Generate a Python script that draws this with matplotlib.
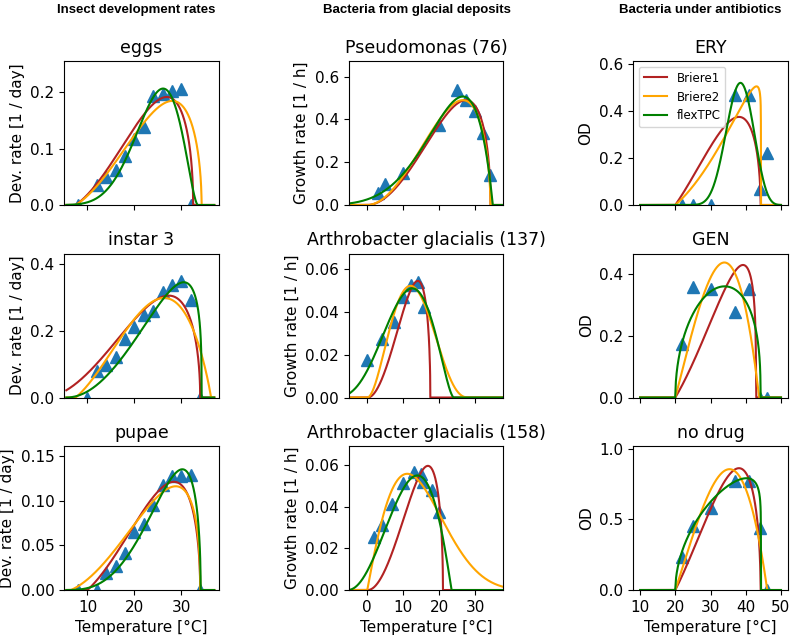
import numpy as np
import matplotlib
matplotlib.use("Agg")
import matplotlib.pyplot as plt

plt.rcParams['font.size'] = 11
plt.rcParams['axes.titlesize'] = 12.5

eggs_temp = [8, 12, 14, 16, 18, 20, 22, 24, 26, 28, 30, 32]
eggs_rate = [0.0, 0.036, 0.049, 0.063, 0.087, 0.118, 0.139, 0.194, 0.198, 0.202, 0.206, 0.0]

instar3_temp = [10, 12, 14, 16, 18, 20, 22, 24, 26, 28, 30, 32, 34]
instar3_rate = [0.0, 0.078, 0.098, 0.121, 0.176, 0.210, 0.248, 0.260, 0.316, 0.336, 0.349, 0.291, 0.0]

pupae_temp = [8, 12, 14, 16, 18, 20, 22, 24, 26, 28, 30, 32, 34]
pupae_rate = [0.0, 0.0, 0.019, 0.027, 0.041, 0.065, 0.074, 0.095, 0.117, 0.127, 0.128, 0.129, 0.0]

pseudo_temp = [3, 5, 10, 20, 25, 27.5, 30, 32, 34]
pseudo_rate = [0.058, 0.097, 0.151, 0.374, 0.538, 0.491, 0.44, 0.335, 0.14]

arth137_temp = [0, 4, 7.5, 10, 12.2, 14, 15.7]
arth137_rate = [0.0173, 0.0273, 0.0354, 0.0468, 0.0528, 0.0541, 0.0421]

arth158_temp = [2, 4, 7, 10, 13, 15, 15.5, 18, 20]
arth158_rate = [0.0256, 0.0312, 0.0411, 0.0515, 0.0565, 0.0557, 0.052, 0.048, 0.0376]

abx_temp = [22, 25, 30, 37, 41, 44, 46]
ery_od = [0.0, 0.0, 0.0, 0.468, 0.468, 0.069, 0.223]
gen_od = [0.173, 0.356, 0.351, 0.275, 0.351, 0.0, 0.0]
nodrug_od = [0.236, 0.454, 0.579, 0.773, 0.775, 0.437, 0.0]

# ---- fitted model parameters (estimated from the curves) ----
# Briere1: (Tmin, Tmax, m, peak)  m = 2 is the usual square root
b1_eggs, b1_instar3, b1_pupae = (7.5, 32.5, 2.0, 0.192), (1.0, 34.0, 2.0, 0.305), (10.0, 34.0, 2.0, 0.121)
b1_pseudo, b1_arth137, b1_arth158 = (0.0, 34.2, 2.0, 0.49), (0.2, 17.5, 2.0, 0.0545), (0.3, 21.0, 2.0, 0.0595)
b1_ery, b1_gen, b1_nodrug = (20.0, 44.2, 2.0, 0.375), (20.0, 42.9, 3.5, 0.428), (20.0, 44.2, 2.0, 0.863)
# Briere2: (Tmin, Tmax, m, peak)
b2_eggs, b2_instar3, b2_pupae = (7.5, 34.3, 1.9, 0.185), (7.5, 36.3, 1.1, 0.298), (6.5, 34.0, 2.42, 0.116)
b2_pseudo, b2_arth137, b2_arth158 = (0.0, 34.2, 1.72, 0.49), (0.0, 28.2, 0.37, 0.0522), (-10.0, 55.0, 0.1656, 0.0557)
b2_ery, b2_gen, b2_nodrug = (20.0, 44.3, 12.0, 0.505), (20.0, 43.8, 1.0, 0.436), (20.0, 46.1, 1.0, 0.856)
# flexTPC: (Tmin, Tmax, Topt, rmax, beta)
fx_eggs, fx_instar3, fx_pupae = (0.0, 33.5, 26.1, 0.207, 0.15), (5.5, 34.3, 30.5, 0.345, 0.22), (5.0, 34.1, 30.2, 0.135, 0.18)
fx_pseudo, fx_arth137, fx_arth158 = (-22.0, 34.8, 26.5, 0.507, 0.14), (-10.0, 24.0, 12.5, 0.051, 0.215), (-5.5, 23.4, 13.9, 0.0549, 0.26)
fx_ery, fx_gen, fx_nodrug = (20.0, 52.0, 38.5, 0.52, 0.125), (20.0, 44.2, 34.0, 0.359, 0.53), (20.0, 44.3, 40.2, 0.792, 0.47)

col_titles = ["Insect development rates", "Bacteria from glacial deposits", "Bacteria under antibiotics"]
col_ylabels = ["Dev. rate [1 / day]", "Growth rate [1 / h]", "OD"]
panel_titles = [["eggs", "Pseudomonas (76)", "ERY"],
                ["instar 3", "Arthrobacter glacialis (137)", "GEN"],
                ["pupae", "Arthrobacter glacialis (158)", "no drug"]]
col_xticks = [[10, 20, 30], [0, 10, 20, 30], [10, 20, 30, 40, 50]]
yticks = [[[0.0, 0.1, 0.2], [0.0, 0.2, 0.4, 0.6], [0.0, 0.2, 0.4, 0.6]],
          [[0.0, 0.2, 0.4], [0.0, 0.02, 0.04, 0.06], [0.0, 0.2, 0.4]],
          [[0.0, 0.05, 0.10, 0.15], [0.0, 0.02, 0.04, 0.06], [0.0, 0.5, 1.0]]]
ytop = [[0.256, 0.673, 0.613], [0.431, 0.0673, 0.465], [0.161, 0.069, 1.02]]


def briere(T, tmin, tmax, m, peak):
    r = np.zeros_like(T)
    ok = (T > tmin) & (T < tmax)
    r[ok] = T[ok] * (T[ok] - tmin) * (tmax - T[ok]) ** (1.0 / m)
    r = np.clip(r, 0, None)
    return peak * r / r.max()


def flextpc(T, tmin, tmax, topt, rmax, beta):
    alpha = (topt - tmin) / (tmax - tmin)
    s = alpha * (1 - alpha)
    r = np.zeros_like(T)
    ok = (T > tmin) & (T < tmax)
    x = T[ok]
    log_term = (alpha * np.log((x - tmin) / alpha)
                + (1 - alpha) * np.log((tmax - x) / (1 - alpha))
                - np.log(tmax - tmin))
    r[ok] = rmax * np.exp(s / beta ** 2 * log_term)
    return r


points = [[(eggs_temp, eggs_rate), (pseudo_temp, pseudo_rate), (abx_temp, ery_od)],
          [(instar3_temp, instar3_rate), (arth137_temp, arth137_rate), (abx_temp, gen_od)],
          [(pupae_temp, pupae_rate), (arth158_temp, arth158_rate), (abx_temp, nodrug_od)]]
fits = [[(b1_eggs, b2_eggs, fx_eggs), (b1_pseudo, b2_pseudo, fx_pseudo), (b1_ery, b2_ery, fx_ery)],
        [(b1_instar3, b2_instar3, fx_instar3), (b1_arth137, b2_arth137, fx_arth137), (b1_gen, b2_gen, fx_gen)],
        [(b1_pupae, b2_pupae, fx_pupae), (b1_arth158, b2_arth158, fx_arth158), (b1_nodrug, b2_nodrug, fx_nodrug)]]
col_trange = [(5.5, 37.0), (-5.0, 37.5), (10.0, 50.0)]
col_xlim = [(5.0, 38.0), (-5.2, 37.8), (8.0, 52.0)]

fig, axes = plt.subplots(3, 3, figsize=(7.9, 6.36), dpi=100, sharex='col')
fig.subplots_adjust(left=0.081, right=0.9975, bottom=0.0723, top=0.9041,
                    wspace=0.836, hspace=0.337)

for i in range(3):
    for j in range(3):
        ax = axes[i, j]
        T = np.linspace(*col_trange[j], 800)
        b1, b2, fx = fits[i][j]
        ax.plot(points[i][j][0], points[i][j][1], '^', color='tab:blue', ms=9, zorder=2)
        ax.plot(T, briere(T, *b1), color='firebrick', lw=1.5, label='Briere1')
        ax.plot(T, briere(T, *b2), color='orange', lw=1.5, label='Briere2')
        ax.plot(T, flextpc(T, *fx), color='green', lw=1.5, label='flexTPC')
        ax.set_title(panel_titles[i][j])
        ax.set_xlim(*col_xlim[j])
        ax.set_xticks(col_xticks[j])
        ax.set_ylim(0, ytop[i][j])
        ax.set_yticks(yticks[i][j])
        ax.set_ylabel(col_ylabels[j])
        if i == 2:
            ax.set_xlabel('Temperature [°C]')

axes[0, 2].legend(loc='upper left', fontsize=8.5)

for x, txt in zip([0.173, 0.528, 0.886], col_titles):
    fig.text(x, 0.984, txt, ha='center', va='center', fontsize=9.5,
             fontweight='bold', family='Liberation Sans')

fig.savefig('out.png', dpi=100)
